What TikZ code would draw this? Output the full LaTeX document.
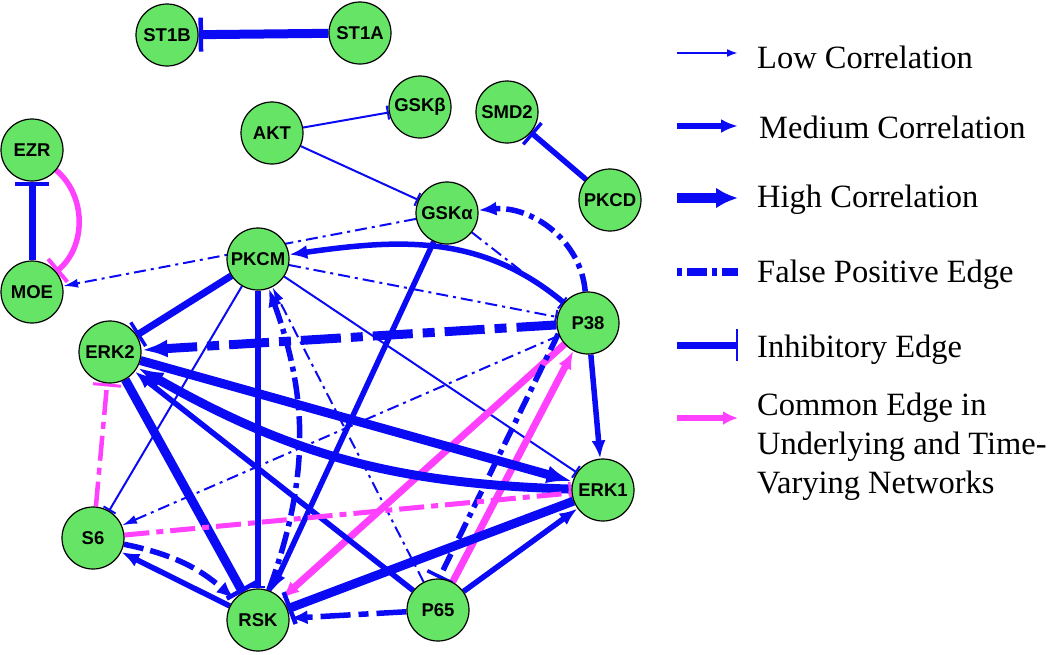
\documentclass[tikz,border=0pt]{standalone}
\usepackage{fontspec}
\setmainfont{Liberation Serif}
\newfontfamily\nodefont{Liberation Sans}
\usetikzlibrary{arrows.meta,backgrounds}
\definecolor{nodegreen}{RGB}{102,228,102}
\definecolor{eblue}{RGB}{10,10,245}
\definecolor{emag}{RGB}{255,64,255}
\tikzset{
 nd/.style={circle, draw=black, line width=1.2pt, fill=nodegreen, minimum size=62pt, inner sep=0pt, font=\nodefont\bfseries\fontsize{18.5}{18.5}\selectfont},
 e/.style={draw=eblue},
 em/.style={draw=emag},
 lo/.style={line width=2pt},
 md/.style={line width=5.5pt},
 hi/.style={line width=9pt},
 alo/.style={-{Latex[length=15pt,width=9pt]}},
 amd/.style={-{Latex[length=18pt,width=14pt]}},
 ahi/.style={-{Latex[length=26pt,width=18pt]}},
 ilo/.style={-{Bar[width=14pt,line width=2pt]}},
 imd/.style={-{Bar[width=28pt,line width=3.5pt]}},
 ihi/.style={-{Bar[width=34pt,line width=4.5pt]}},
 fplo/.style={dash pattern=on 12pt off 5pt on 3pt off 5pt},
 fpmd/.style={dash pattern=on 18pt off 6pt on 5pt off 6pt},
 fphi/.style={dash pattern=on 40pt off 10pt on 12pt off 10pt},
 lg/.style={font=\fontsize{32.5}{38.5}\selectfont, inner sep=0pt, anchor=base west},
}
\begin{document}
\begin{tikzpicture}[x=1pt,y=-1pt]
\useasboundingbox (0,0) rectangle (1050,654);
% nodes
\node[nd] (ST1B) at (167,35) {ST1B};
\node[nd] (ST1A) at (360,33) {ST1A};
\node[nd] (AKT) at (272,133) {AKT};
\node[nd] (GSKb) at (420,107) {GSKβ};
\node[nd] (SMD2) at (507,112) {SMD2};
\node[nd] (PKCD) at (610,200) {PKCD};
\node[nd] (EZR) at (32,150) {EZR};
\node[nd] (MOE) at (32,292) {MOE};
\node[nd] (GSKa) at (447,213) {GSKα};
\node[nd] (PKCM) at (258,259) {PKCM};
\node[nd] (P38) at (588,323) {P38};
\node[nd] (ERK2) at (110,352) {ERK2};
\node[nd] (ERK1) at (603,490) {ERK1};
\node[nd] (S6) at (93,538) {S6};
\node[nd] (RSK) at (258,620) {RSK};
\node[nd] (P65) at (438,610) {P65};
% edges
\begin{scope}[on background layer]
\draw[e,hi,ihi] (ST1A) -- (ST1B);
\draw[e,lo,ilo] (AKT) -- (GSKb);
\draw[e,lo,ilo] (AKT) -- (GSKa);
\draw[e,md,imd] (PKCD) -- (SMD2);
\draw[e,line width=7pt,-{Bar[width=34pt,line width=4.5pt]}] (MOE) -- (EZR);
\draw[em,line width=5.5pt,-{Bar[width=30pt,line width=4pt]}] (EZR) to[bend left=50] (MOE);
\draw[e,lo,fplo,alo] (GSKa) -- (MOE);
\draw[e,md,amd] (P38) to[out=140,in=8] (PKCM);
\draw[e,lo,fplo,ilo] (PKCM) -- (P38);
\draw[e,lo,fplo,ilo] (GSKa) -- (P38);
\draw[e,md,fpmd,amd] (P38) to[out=95,in=5] (GSKa);
\draw[e,md,amd] (GSKa) -- (RSK);
\draw[e,line width=7pt,imd] (PKCM) -- (ERK2);
\draw[e,lo,ilo] (PKCM) -- (S6);
\draw[e,md,-{Bar[width=14pt,line width=2.5pt]}] (PKCM) -- (RSK);
\draw[e,lo,ilo] (PKCM) -- (ERK1);
\draw[e,md,dash pattern=on 22pt off 6pt on 5pt off 6pt,amd] (RSK) to[bend right=20] (PKCM);
\draw[e,lo,fplo,alo] (P65) -- (PKCM);
\draw[e,hi,fphi,ahi] (P38) -- (ERK2);
\draw[e,md,amd] (P38) -- (ERK1);
\draw[e,lo,fplo,alo] (P38) -- (S6);
\draw[em,line width=7pt,amd] (P38) -- (RSK);
\draw[em,line width=7pt,amd] (P65) -- (P38);
\draw[e,md,fpmd,imd] (P38.200) -- (P65.88);
\draw[e,hi,ahi] (ERK2) -- (ERK1);
\draw[e,hi,ahi] (ERK1) to[bend left=14] (ERK2);
\draw[e,hi,ihi] (ERK2) -- (RSK);
\draw[e,md,amd] (P65) -- (ERK2);
\draw[em,line width=5pt,dash pattern=on 25pt off 7pt on 7pt off 7pt,-{Bar[width=22pt,line width=2.5pt]}] (S6) -- (ERK1);
\draw[em,line width=4.5pt,dash pattern=on 25pt off 7pt on 7pt off 7pt,-{Bar[width=28pt,line width=3pt]}] (S6) -- (ERK2);
\draw[e,hi,ihi] (ERK1) -- (RSK);
\draw[e,md,amd] (P65) -- (ERK1);
\draw[e,md,dash pattern=on 30pt off 8pt on 10pt off 8pt,amd] (P65) -- (RSK);
\draw[e,md,dash pattern=on 20pt off 7pt,amd] (S6) to[bend left=15] (RSK);
\draw[e,md,amd] (RSK) -- (S6);
\end{scope}
% legend
\coordinate (L1a) at (677,53); \coordinate (L1b) at (738,53);
\draw[e,lo,-{Latex[length=11pt,width=8pt]}] (L1a) -- (L1b);
\node[lg] (T1) at (757,68) {Low Correlation};
\coordinate (L2a) at (677,126); \coordinate (L2b) at (738,126);
\draw[e,line width=6pt,-{Latex[length=17pt,width=14pt]}] (L2a) -- (L2b);
\node[lg] (T2) at (759,138) {Medium Correlation};
\coordinate (L3a) at (677,198); \coordinate (L3b) at (738,198);
\draw[e,line width=10pt,-{Latex[length=22pt,width=21pt]}] (L3a) -- (L3b);
\node[lg] (T3) at (757,207) {High Correlation};
\coordinate (L4a) at (677,272); \coordinate (L4b) at (738,272);
\draw[e,line width=8pt,dash pattern=on 5pt off 5pt on 20pt off 5pt] (L4a) -- (L4b);
\node[lg] (T4) at (757,282) {False Positive Edge};
\coordinate (L5a) at (677,345); \coordinate (L5b) at (738,345);
\draw[e,line width=7pt,-{Bar[width=32pt,line width=2.5pt]}] (L5a) -- (L5b);
\node[lg] (T5) at (757,357) {Inhibitory Edge};
\coordinate (L6a) at (677,418); \coordinate (L6b) at (738,418);
\draw[em,line width=6pt,-{Latex[length=15pt,width=14pt]}] (L6a) -- (L6b);
\node[lg] (T6a) at (757,415) {Common Edge in};
\node[lg] (T6b) at (757,454) {Underlying and Time-};
\node[lg] (T6c) at (757,493) {Varying Networks};
\end{tikzpicture}
\end{document}
